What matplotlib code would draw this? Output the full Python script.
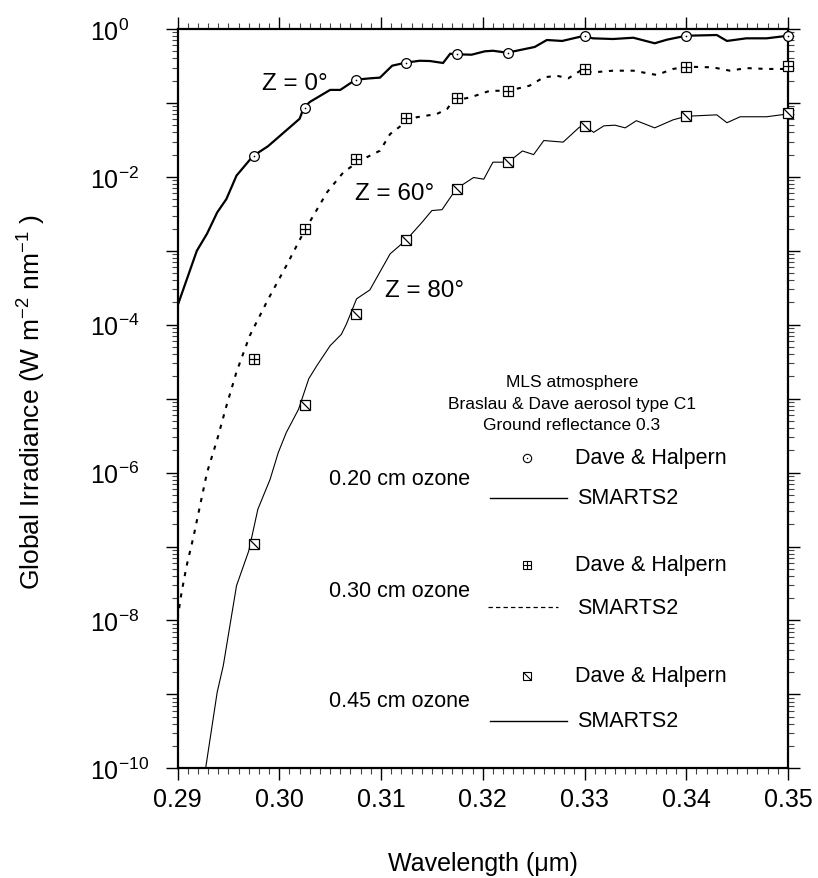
import numpy as np
import matplotlib
matplotlib.use("Agg")
import matplotlib.pyplot as plt
from matplotlib.path import Path
from matplotlib.ticker import FixedLocator, LogLocator, NullFormatter, FuncFormatter, MultipleLocator

plt.rcParams['font.family'] = ['Liberation Sans', 'DejaVu Sans']
plt.rcParams['mathtext.fontset'] = 'custom'
plt.rcParams['mathtext.rm'] = 'Liberation Sans'
plt.rcParams['mathtext.it'] = 'Liberation Sans:italic'
plt.rcParams['mathtext.bf'] = 'Liberation Sans:bold'

# ---------------- data ----------------
# SMARTS2, Z = 0 deg, 0.20 cm ozone
wl0 = [0.2900, 0.2919, 0.2929, 0.2939, 0.2948, 0.2958, 0.2974, 0.2989, 0.3020, 0.3024,
       0.3030, 0.3050, 0.3060, 0.3075, 0.3089, 0.3099, 0.3111, 0.3124, 0.3138, 0.3148,
       0.3161, 0.3168, 0.3174, 0.3189, 0.3202, 0.3210, 0.3224, 0.3251, 0.3263, 0.3278,
       0.3300, 0.3308, 0.3328, 0.3348, 0.3369, 0.3381, 0.3400, 0.3430, 0.3440, 0.3459,
       0.3479, 0.3500]
irr0 = [1.8e-4, 1.0e-3, 1.7e-3, 3.3e-3, 5.0e-3, 1.04e-2, 1.9e-2, 2.6e-2, 6.1e-2, 8.5e-2,
        0.103, 0.150, 0.150, 0.206, 0.215, 0.220, 0.319, 0.350, 0.372, 0.369,
        0.347, 0.463, 0.455, 0.449, 0.499, 0.508, 0.478, 0.571, 0.710, 0.689,
        0.811, 0.748, 0.732, 0.762, 0.641, 0.717, 0.811, 0.829, 0.689, 0.748,
        0.748, 0.811]

# SMARTS2, Z = 60 deg, 0.30 cm ozone
wl60 = [0.2900, 0.2904, 0.2909, 0.2916, 0.2922, 0.2929, 0.2939, 0.2948, 0.2958, 0.2971,
        0.2989, 0.3007, 0.3024, 0.3047, 0.3063, 0.3074, 0.3086, 0.3099, 0.3109, 0.3122,
        0.3135, 0.3155, 0.3165, 0.3171, 0.3188, 0.3207, 0.3225, 0.3246, 0.3260, 0.3273,
        0.3284, 0.3296, 0.3308, 0.3328, 0.3348, 0.3371, 0.3387, 0.3400, 0.3426, 0.3443,
        0.3459, 0.3479, 0.3500]
irr60 = [1.05e-8, 2.4e-8, 5.5e-8, 1.41e-7, 3.5e-7, 1.0e-6, 2.8e-6, 7.9e-6, 2.3e-5, 7.1e-5,
         2.2e-4, 6.3e-4, 1.78e-3, 6.2e-3, 1.15e-2, 1.48e-2, 1.84e-2, 2.26e-2, 3.8e-2, 5.2e-2,
         6.4e-2, 7.1e-2, 8.3e-2, 0.107, 0.119, 0.146, 0.146, 0.171, 0.222, 0.233,
         0.215, 0.273, 0.259, 0.273, 0.273, 0.239, 0.288, 0.309, 0.303, 0.273,
         0.296, 0.288, 0.288]

# SMARTS2, Z = 80 deg, 0.45 cm ozone
wl80 = [0.2926, 0.2939, 0.2945, 0.2958, 0.2970, 0.2979, 0.2991, 0.2999, 0.3007, 0.3019,
        0.3029, 0.3037, 0.3050, 0.3061, 0.3066, 0.3076, 0.3089, 0.3109, 0.3125, 0.3140,
        0.3150, 0.3160, 0.3174, 0.3191, 0.3201, 0.3210, 0.3225, 0.3239, 0.3250, 0.3260,
        0.3279, 0.3295, 0.3300, 0.3309, 0.3319, 0.3330, 0.3340, 0.3351, 0.3369, 0.3387,
        0.3400, 0.3430, 0.3440, 0.3453, 0.3479, 0.3500]
irr80 = [7.1e-11, 1.07e-9, 2.45e-9, 2.95e-8, 8.7e-8, 3.2e-7, 8.1e-7, 1.86e-6, 3.5e-6, 7.2e-6,
         1.86e-5, 2.8e-5, 5.2e-5, 7.4e-5, 1.02e-4, 2.24e-4, 2.95e-4, 9.1e-4, 1.41e-3, 2.4e-3,
         3.5e-3, 3.6e-3, 6.9e-3, 9.8e-3, 9.3e-3, 1.58e-2, 1.58e-2, 2.24e-2, 2.0e-2, 3.1e-2,
         2.95e-2, 4.7e-2, 4.9e-2, 4.0e-2, 4.9e-2, 5.0e-2, 4.6e-2, 5.75e-2, 4.6e-2, 5.9e-2,
         6.6e-2, 6.9e-2, 5.4e-2, 6.5e-2, 6.5e-2, 7.1e-2]

# Dave & Halpern reference points
dh_wl = [0.2975, 0.3025, 0.3075, 0.3125, 0.3175, 0.3225, 0.330, 0.340, 0.350]
dh0 = [0.019, 0.085, 0.206, 0.35, 0.455, 0.478, 0.81, 0.81, 0.81]
dh60 = [3.4e-5, 1.97e-3, 1.75e-2, 6.2e-2, 0.116, 0.146, 0.288, 0.309, 0.319]
dh80 = [1.08e-7, 8.2e-6, 1.40e-4, 1.40e-3, 6.9e-3, 1.60e-2, 4.9e-2, 6.6e-2, 7.3e-2]

zenith_labels = ["Z = 0°", "Z = 60°", "Z = 80°"]
ozone_labels = ["0.20 cm ozone", "0.30 cm ozone", "0.45 cm ozone"]
info_lines = ["MLS atmosphere", "Braslau & Dave aerosol type C1", "Ground reflectance 0.3"]
x_ticks = [0.29, 0.30, 0.31, 0.32, 0.33, 0.34, 0.35]

# ---------------- figure ----------------
W, H = 818, 879
fig = plt.figure(figsize=(W / 100, H / 100), dpi=100)
L, R, T, B = 177.5, 788.0, 30.0, 769.3
ax = fig.add_axes([L / W, 1 - B / H, (R - L) / W, (B - T) / H])

def ax_xy(px, py):
    return ((px - L) / (R - L), (B - py) / (B - T))

ax.set_xscale('linear')
ax.set_yscale('log')
ax.set_xlim(0.29, 0.35)
ax.set_ylim(1e-10, 1e0)

ax.plot(wl0, irr0, color='black', lw=1.6, solid_joinstyle='miter', zorder=3)
ax.plot(wl60, irr60, color='black', lw=1.5, dashes=(2.0, 3.2), zorder=3)
ax.plot(wl80, irr80, color='black', lw=0.8, zorder=3)

diag = Path([(-1, 1), (1, -1)], [Path.MOVETO, Path.LINETO])
ms = 7
# circles with center dot
ax.plot(dh_wl, dh0, ls='none', marker='o', ms=ms, mfc='white', mec='black', mew=0.9, clip_on=False, zorder=4)
ax.plot(dh_wl, dh0, ls='none', marker='o', ms=1.2, mfc='black', mec='black', mew=0, clip_on=False, zorder=5)
# squares with plus
ax.plot(dh_wl, dh60, ls='none', marker='s', ms=ms - 0.5, mfc='white', mec='black', mew=0.9, clip_on=False, zorder=4)
ax.plot(dh_wl, dh60, ls='none', marker='+', ms=ms - 0.5, mec='black', mew=0.9, clip_on=False, zorder=5)
# squares with diagonal
ax.plot(dh_wl, dh80, ls='none', marker='s', ms=ms - 0.5, mfc='white', mec='black', mew=0.9, clip_on=False, zorder=4)
ax.plot(dh_wl, dh80, ls='none', marker=diag, ms=ms - 0.5, mec='black', mew=0.9, clip_on=False, zorder=5)

# ---------------- axes styling ----------------
for sp in ax.spines.values():
    sp.set_linewidth(1.6)

ax.xaxis.set_major_locator(FixedLocator(x_ticks))
ax.xaxis.set_minor_locator(MultipleLocator(0.001))
ax.xaxis.set_major_formatter(FuncFormatter(lambda v, p: f"{v:.2f}"))

ax.yaxis.set_major_locator(LogLocator(base=10, numticks=20))
ax.yaxis.set_minor_locator(LogLocator(base=10, subs=np.arange(2, 10), numticks=20))
ax.yaxis.set_minor_formatter(NullFormatter())

def yfmt(v, p):
    e = int(round(np.log10(v)))
    if e % 2 != 0:
        return ""
    return r"$10^{%d}$" % e

ax.yaxis.set_major_formatter(FuncFormatter(yfmt))

ax.tick_params(which='both', direction='out', top=True, right=True, labeltop=False, labelright=False)
ax.tick_params(which='major', length=8.6, width=1.0, color='black', labelsize=18)
ax.tick_params(which='minor', length=4.3, width=0.8, color='#444444')
ax.tick_params(axis='x', which='major', pad=5)
ax.tick_params(axis='y', which='major', pad=54.4)
for lab in ax.get_yticklabels():
    lab.set_horizontalalignment('left')

ax.set_xlabel("Wavelength (μm)", fontsize=18, labelpad=29)
ax.set_ylabel("Global Irradiance (W m$^{-2}$ nm$^{-1}$ )", fontsize=19)
ax.yaxis.set_label_coords((48 - L) / (R - L), (B - 402) / (B - T))

# ---------------- annotations ----------------
ax.text(0.2983, 0.154, zenith_labels[0], fontsize=17.5, ha='left', va='baseline')
ax.text(0.30744, 5.0e-3, zenith_labels[1], fontsize=17.5, ha='left', va='baseline')
ax.text(0.31039, 2.45e-4, zenith_labels[2], fontsize=17.5, ha='left', va='baseline')

for i, line in enumerate(info_lines):
    x, y = ax_xy(572, 383 + 21.5 * i)
    ax.text(x, y, line, transform=ax.transAxes, fontsize=12.5, ha='center', va='center')

# legend-like key, drawn in axes coordinates
rows_marker = [459, 565.7, 676.7]
rows_line = [499, 608.3, 721.7]
rows_ozone = [480, 591.7, 701.7]
line_x = [(490, 566.7), (487.7, 558), (490, 566.7)]
for i in range(3):
    mx, my = ax_xy(527, rows_marker[i])
    if i == 0:
        ax.plot([mx], [my], transform=ax.transAxes, marker='o', ms=6, mfc='white', mec='black', mew=0.8, ls='none')
        ax.plot([mx], [my], transform=ax.transAxes, marker='o', ms=1, mfc='black', mec='black', mew=0, ls='none')
    else:
        ax.plot([mx], [my], transform=ax.transAxes, marker='s', ms=6, mfc='white', mec='black', mew=0.8, ls='none')
        ax.plot([mx], [my], transform=ax.transAxes, marker=('+' if i == 1 else diag), ms=6, mec='black', mew=0.8, ls='none')
    tx, ty = ax_xy(575, rows_marker[i])
    ax.text(tx, ty, "Dave & Halpern", transform=ax.transAxes, fontsize=15.5, ha='left', va='center')
    x1, ly = ax_xy(line_x[i][0], rows_line[i])
    x2, _ = ax_xy(line_x[i][1], rows_line[i])
    if i == 1:
        ax.plot([x1, x2], [ly, ly], transform=ax.transAxes, color='black', lw=0.9, dashes=(3.5, 2.5))
    else:
        ax.plot([x1, x2], [ly, ly], transform=ax.transAxes, color='black', lw=1.0)
    sx, sy = ax_xy(577, rows_line[i])
    ax.text(sx, sy, "SMARTS2", transform=ax.transAxes, fontsize=15.5, ha='left', va='center')
    ox, oy = ax_xy(329, rows_ozone[i])
    ax.text(ox, oy, ozone_labels[i], transform=ax.transAxes, fontsize=15.5, ha='left', va='center')

fig.savefig("out.png", dpi=100)
